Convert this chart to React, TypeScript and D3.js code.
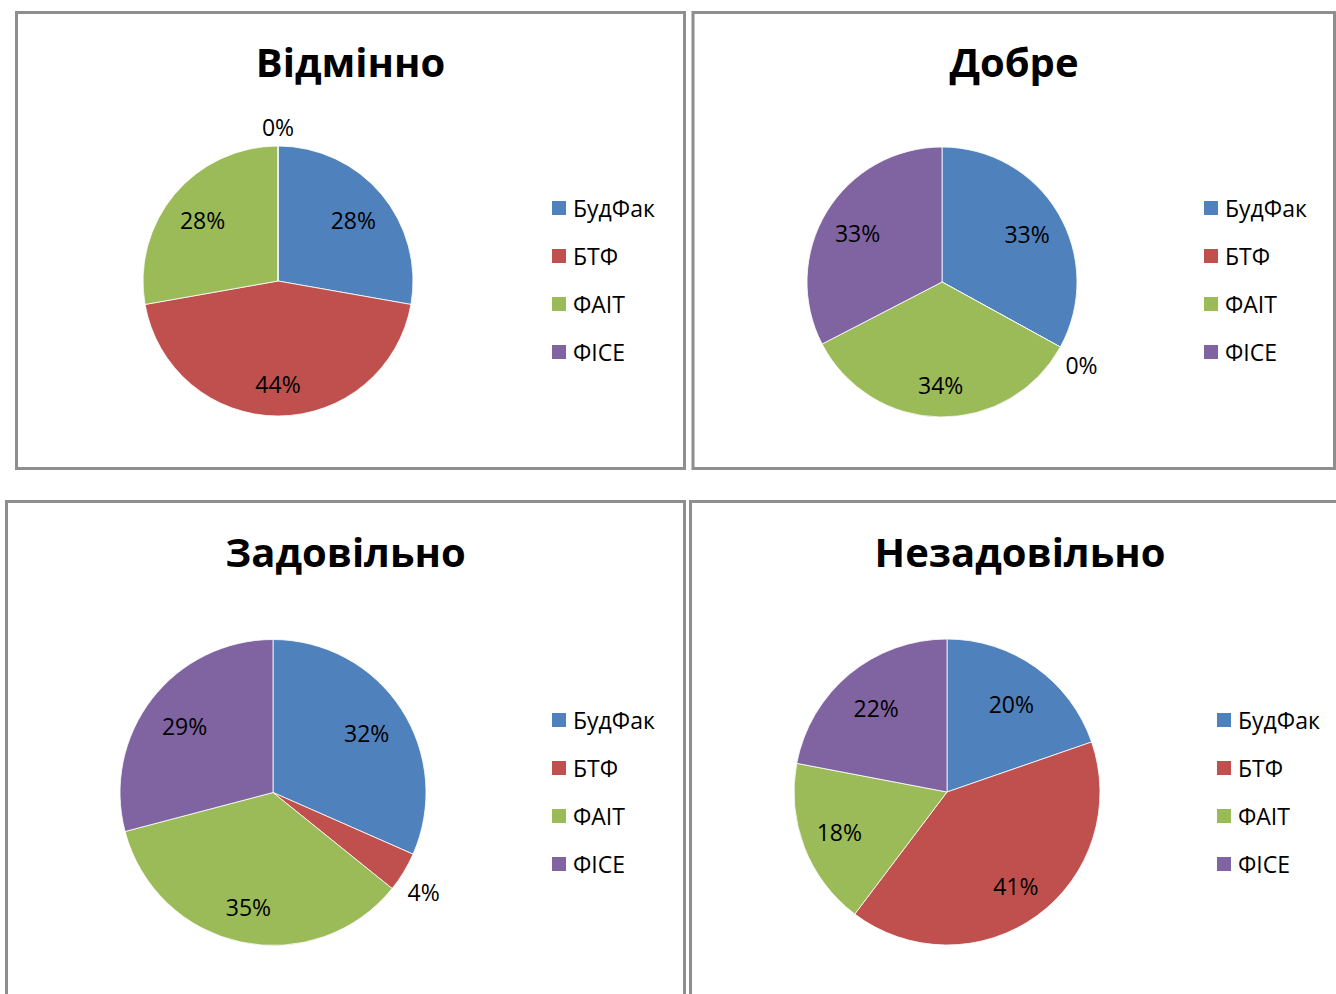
import React from "react";
import * as d3 from "d3";

// ---- data ----
const categories = ["БудФак", "БТФ", "ФАІТ", "ФІСЕ"];
const chartTitles = ["Відмінно", "Добре", "Задовільно", "Незадовільно"];
const excellentValues = [5, 8, 5, 0];
const goodValues = [33, 0, 34.4, 32.6];
const satisfactoryValues = [31.6, 4.2, 35.1, 29.1];
const unsatisfactoryValues = [19.7, 40.6, 17.7, 22.0];
const seriesColors = ["#4F81BD", "#C0504D", "#9BBB59", "#8064A2"];

const allValues = [excellentValues, goodValues, satisfactoryValues, unsatisfactoryValues];

// ---- layout ----
const W = 1336;
const H = 994;
const panels = [
  { box: [16.5, 12.5, 668, 456], cx: 278, cy: 281, r: 135, titleX: 350.5, titleY: 77, legX: 552, legY: 208 },
  { box: [693, 12.5, 641.5, 456], cx: 942, cy: 282, r: 135, titleX: 1014, titleY: 77, legX: 1204, legY: 208 },
  { box: [6.5, 501.5, 678, 520], cx: 273, cy: 792.5, r: 153, titleX: 345.5, titleY: 567, legX: 552, legY: 720 },
  { box: [690.5, 501.5, 660, 520], cx: 947, cy: 792, r: 153, titleX: 1020, titleY: 567, legX: 1217, legY: 720 },
];

const FONT = "'Open Sans', 'Noto Sans', sans-serif";
const LABEL_FS = 23;

function PiePanel({ idx }: { idx: number }) {
  const p = panels[idx];
  const values = allValues[idx];
  const total = d3.sum(values);
  const pie = d3.pie<number>().sort(null).value((d) => d);
  const arcs = pie(values);
  const arc = d3.arc<d3.PieArcDatum<number>>().innerRadius(0).outerRadius(p.r);
  const [bx, by, bw, bh] = p.box;

  return (
    <g>
      <rect x={bx} y={by} width={bw} height={bh} fill="#fff" stroke="#8e8e8e" strokeWidth={3} />
      <text
        x={p.titleX}
        y={p.titleY}
        textAnchor="middle"
        fontFamily={FONT}
        fontWeight={700}
        fontSize={40}
        fill="#000"
      >
        {chartTitles[idx]}
      </text>
      <g transform={`translate(${p.cx},${p.cy})`}>
        {arcs.map((a, i) => (
          <path key={i} d={arc(a) || ""} fill={seriesColors[i]} stroke="#fff" strokeWidth={0.8} strokeLinejoin="round" />
        ))}
        {arcs.map((a, i) => {
          const share = a.value / total;
          const label = `${Math.round(share * 100)}%`;
          const mid = (a.startAngle + a.endAngle) / 2;
          const s = Math.sin(mid);
          const c = Math.cos(mid);
          let x: number;
          let y: number;
          if (share < 0.06) {
            const hw = label.length * LABEL_FS * 0.35;
            const hh = 8;
            const D = p.r + 10 + Math.abs(s) * hw + Math.abs(c) * hh;
            const m2 = mid + (Math.abs(s) > 0.5 ? 0.04 : 0);
            x = D * Math.sin(m2);
            y = -D * Math.cos(m2);
          } else {
            const k = 0.72 + 0.05 * (1 - c) / 2;
            const R = p.r * k;
            x = R * s;
            y = -R * c + (c > 0 ? 3 : 0);
          }
          return (
            <text
              key={`l${i}`}
              x={x}
              y={y + 8}
              textAnchor="middle"
              fontFamily={FONT}
              fontSize={LABEL_FS}
              fill="#000"
            >
              {label}
            </text>
          );
        })}
      </g>
      <g>
        {categories.map((name, i) => (
          <g key={name} transform={`translate(${p.legX},${p.legY + i * 48})`}>
            <rect x={0} y={-7} width={14} height={14} fill={seriesColors[i]} />
            <text x={21} y={8.5} fontFamily={FONT} fontSize={23} fill="#000">
              {name}
            </text>
          </g>
        ))}
      </g>
    </g>
  );
}

export default function App() {
  return (
    <svg
      width={W}
      height={H}
      viewBox={`0 0 ${W} ${H}`}
      style={{ position: "absolute", left: 0, top: 0, background: "#fff" }}
    >
      <rect x={0} y={0} width={W} height={H} fill="#fff" />
      {[2, 3, 0, 1].map((i) => (
        <PiePanel key={i} idx={i} />
      ))}
    </svg>
  );
}
